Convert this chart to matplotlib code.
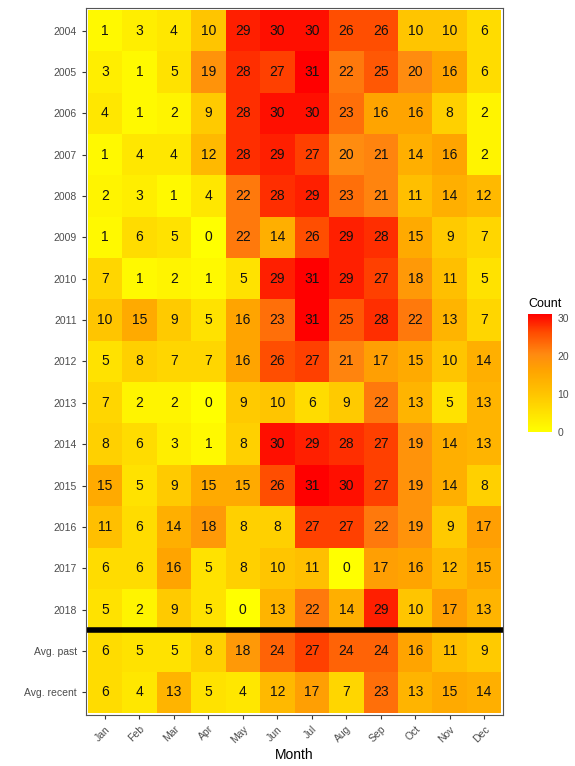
import numpy as np
import matplotlib
matplotlib.use("Agg")
import matplotlib.pyplot as plt
from matplotlib.colors import LinearSegmentedColormap

plt.rcParams['font.family'] = ['Liberation Sans', 'DejaVu Sans']

months = ['Jan', 'Feb', 'Mar', 'Apr', 'May', 'Jun', 'Jul', 'Aug', 'Sep', 'Oct', 'Nov', 'Dec']
rows = ['2004', '2005', '2006', '2007', '2008', '2009', '2010', '2011', '2012',
        '2013', '2014', '2015', '2016', '2017', '2018', 'Avg. past', 'Avg. recent']

counts = [
    [1, 3, 4, 10, 29, 30, 30, 26, 26, 10, 10, 6],
    [3, 1, 5, 19, 28, 27, 31, 22, 25, 20, 16, 6],
    [4, 1, 2, 9, 28, 30, 30, 23, 16, 16, 8, 2],
    [1, 4, 4, 12, 28, 29, 27, 20, 21, 14, 16, 2],
    [2, 3, 1, 4, 22, 28, 29, 23, 21, 11, 14, 12],
    [1, 6, 5, 0, 22, 14, 26, 29, 28, 15, 9, 7],
    [7, 1, 2, 1, 5, 29, 31, 29, 27, 18, 11, 5],
    [10, 15, 9, 5, 16, 23, 31, 25, 28, 22, 13, 7],
    [5, 8, 7, 7, 16, 26, 27, 21, 17, 15, 10, 14],
    [7, 2, 2, 0, 9, 10, 6, 9, 22, 13, 5, 13],
    [8, 6, 3, 1, 8, 30, 29, 28, 27, 19, 14, 13],
    [15, 5, 9, 15, 15, 26, 31, 30, 27, 19, 14, 8],
    [11, 6, 14, 18, 8, 8, 27, 27, 22, 19, 9, 17],
    [6, 6, 16, 5, 8, 10, 11, 0, 17, 16, 12, 15],
    [5, 2, 9, 5, 0, 13, 22, 14, 29, 10, 17, 13],
    [6, 5, 5, 8, 18, 24, 27, 24, 24, 16, 11, 9],
    [6, 4, 13, 5, 4, 12, 17, 7, 23, 13, 15, 14],
]

data = np.array(counts)

# yellow -> red, roughly like ggplot's Lab gradient
cmap = LinearSegmentedColormap.from_list(
    'ylrd', [(0.0, '#ffff00'), (0.33, '#ffc300'), (0.52, '#ffa400'),
             (0.66, '#ff8a10'), (0.85, '#ff4a00'), (1.0, '#ff0000')])

fig = plt.figure(figsize=(5.75, 7.66), dpi=100)
ax = fig.add_axes([0.1496, 0.0666, 0.7254, 0.923])

mesh = ax.pcolormesh(np.arange(len(months) + 1) - 0.5,
                     np.arange(len(rows) + 1) - 0.5,
                     data, cmap=cmap, vmin=0, vmax=31)
for i in range(len(rows)):
    for j in range(len(months)):
        ax.text(j, i, str(data[i, j]), ha='center', va='center',
                fontsize=10, color='#111111')

ax.axhline(14.5, color='black', linewidth=4)

ax.set_xlim(-0.55, len(months) - 0.45)
ax.set_ylim(len(rows) - 0.45, -0.55)
ax.set_xticks(range(len(months)))
ax.set_xticklabels(months, rotation=45, ha='right', rotation_mode='anchor')
ax.set_yticks(range(len(rows)))
ax.set_yticklabels(rows)
ax.tick_params(labelsize=7.5, labelcolor='#4d4d4d', color='#333333', length=3)
ax.set_xlabel('Month', fontsize=10, labelpad=2)
for s in ax.spines.values():
    s.set_color('#555555')
    s.set_linewidth(0.8)

cax = fig.add_axes([528 / 575, 1 - 432 / 766, 24 / 575, 118 / 766])
cb = fig.colorbar(mesh, cax=cax, ticks=[0, 10, 20, 30])
cb.outline.set_visible(False)
cax.tick_params(labelsize=7.5, labelcolor='#4d4d4d', length=0, pad=4)
cax.set_title('Count', fontsize=9, loc='left', pad=5)

fig.savefig('out.png', dpi=100)
